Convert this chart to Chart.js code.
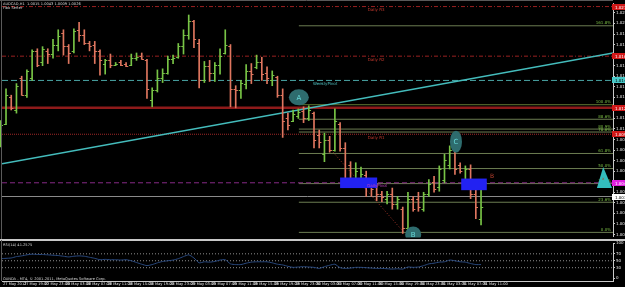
<!DOCTYPE html>
<html>
<head>
<meta charset="utf-8">
<script src="https://cdn.jsdelivr.net/npm/chart.js@4.4.1/dist/chart.umd.min.js"></script>
<style>
  html, body { margin: 0; padding: 0; background: #000; }
  #wrap { position: relative; width: 625px; height: 287px; overflow: hidden; background: #000; }
  canvas { position: absolute; left: 0; }
  #main { top: 0; }
  #rsi { top: 240px; }
</style>
</head>
<body>
<div id="wrap">
  <canvas id="main" width="625" height="240"></canvas>
  <canvas id="rsi" width="625" height="47"></canvas>
</div>
<script>
// chart header
const symbol = "AUDCAD,H1";
const indicatorName = "Fibo Setter";
const rsiTitle = "RSI(14) 41.2575";
const copyright = "OANDA - MT4, \u00a9 2001-2011, MetaQuotes Software Corp.";

// H1 bars, first one sits at bar position -1 (partly cut at the left edge)
const firstBar = -1;
const opens = [
  1.0090, 1.0105, 1.0130, 1.0118, 1.0148, 1.0132, 1.0148, 1.0174, 1.0163, 1.0174,
  1.0171, 1.0180, 1.0191, 1.0179, 1.0174, 1.0194, 1.0189, 1.0181, 1.0180, 1.0174,
  1.0162, 1.0165, 1.0161, 1.0163, 1.0162, 1.0161, 1.0167, 1.0169, 1.0165, 1.0127,
  1.0137, 1.0148, 1.0153, 1.0166, 1.0168, 1.0179, 1.0189, 1.0202, 1.0181, 1.0146,
  1.0160, 1.0153, 1.0161, 1.0172, 1.0179, 1.0138, 1.0137, 1.0143, 1.0155, 1.0159,
  1.0163, 1.0153, 1.0146, 1.0149, 1.0132, 1.0110, 1.0108, 1.0112, 1.0117, 1.0110,
  1.0115, 1.0094, 1.0076, 1.0090, 1.0080, 1.0105, 1.0082, 1.0066, 1.0052, 1.0054,
  1.0056, 1.0050, 1.0045, 1.0038, 1.0034, 1.0038, 1.0029, 1.0024, 1.0006, 1.0034,
  1.0034, 1.0024, 1.0038, 1.0050, 1.0045, 1.0052, 1.0066, 1.0080, 1.0066, 1.0048,
  1.0062, 1.0038, 1.0015
];
const highs = [
  1.0108, 1.0138, 1.0132, 1.0143, 1.0150, 1.0156, 1.0175, 1.0176, 1.0178, 1.0176,
  1.0185, 1.0194, 1.0194, 1.0180, 1.0195, 1.0201, 1.0194, 1.0183, 1.0183, 1.0175,
  1.0166, 1.0171, 1.0163, 1.0165, 1.0163, 1.0171, 1.0172, 1.0172, 1.0166, 1.0139,
  1.0156, 1.0157, 1.0169, 1.0170, 1.0181, 1.0194, 1.0208, 1.0203, 1.0185, 1.0164,
  1.0165, 1.0163, 1.0176, 1.0194, 1.0180, 1.0141, 1.0146, 1.0161, 1.0162, 1.0170,
  1.0168, 1.0159, 1.0155, 1.0150, 1.0138, 1.0115, 1.0118, 1.0119, 1.0121, 1.0122,
  1.0116, 1.0099, 1.0096, 1.0093, 1.0119, 1.0106, 1.0087, 1.0069, 1.0068, 1.0064,
  1.0060, 1.0052, 1.0048, 1.0041, 1.0041, 1.0044, 1.0036, 1.0026, 1.0040, 1.0036,
  1.0040, 1.0040, 1.0052, 1.0055, 1.0065, 1.0076, 1.0084, 1.0082, 1.0068, 1.0065,
  1.0066, 1.0046, 1.0043
];
const lows = [
  1.0083, 1.0104, 1.0118, 1.0115, 1.0132, 1.0130, 1.0146, 1.0159, 1.0160, 1.0162,
  1.0167, 1.0174, 1.0170, 1.0162, 1.0172, 1.0183, 1.0180, 1.0174, 1.0162, 1.0151,
  1.0152, 1.0158, 1.0160, 1.0160, 1.0159, 1.0160, 1.0165, 1.0166, 1.0129, 1.0121,
  1.0135, 1.0144, 1.0152, 1.0162, 1.0167, 1.0171, 1.0185, 1.0177, 1.0139, 1.0144,
  1.0145, 1.0145, 1.0152, 1.0171, 1.0121, 1.0120, 1.0129, 1.0138, 1.0143, 1.0157,
  1.0146, 1.0143, 1.0141, 1.0130, 1.0092, 1.0099, 1.0107, 1.0110, 1.0106, 1.0108,
  1.0082, 1.0082, 1.0069, 1.0078, 1.0079, 1.0079, 1.0050, 1.0045, 1.0050, 1.0050,
  1.0036, 1.0036, 1.0032, 1.0031, 1.0029, 1.0024, 1.0024, 1.0001, 1.0001, 1.0022,
  1.0022, 1.0022, 1.0036, 1.0040, 1.0041, 1.0049, 1.0062, 1.0057, 1.0058, 1.0043,
  1.0034, 1.0015, 1.0009
];
const closes = [
  1.0104, 1.0132, 1.0120, 1.0141, 1.0132, 1.0155, 1.0174, 1.0161, 1.0176, 1.0171,
  1.0180, 1.0188, 1.0179, 1.0172, 1.0193, 1.0189, 1.0181, 1.0179, 1.0174, 1.0165,
  1.0165, 1.0161, 1.0162, 1.0161, 1.0160, 1.0167, 1.0168, 1.0166, 1.0138, 1.0137,
  1.0148, 1.0153, 1.0166, 1.0167, 1.0179, 1.0189, 1.0202, 1.0185, 1.0146, 1.0160,
  1.0153, 1.0161, 1.0169, 1.0180, 1.0138, 1.0137, 1.0144, 1.0155, 1.0152, 1.0163,
  1.0152, 1.0148, 1.0151, 1.0132, 1.0108, 1.0104, 1.0114, 1.0116, 1.0110, 1.0118,
  1.0090, 1.0088, 1.0090, 1.0080, 1.0108, 1.0082, 1.0052, 1.0050, 1.0060, 1.0057,
  1.0048, 1.0043, 1.0038, 1.0036, 1.0038, 1.0029, 1.0034, 1.0006, 1.0034, 1.0024,
  1.0026, 1.0038, 1.0048, 1.0043, 1.0062, 1.0071, 1.0080, 1.0062, 1.0060, 1.0062,
  1.0038, 1.0026, 1.0026
];
const rsiValues = [
  56, 57, 58, 62, 64, 67, 69, 68, 68, 67,
  66, 65, 63, 61, 63, 64, 63, 60, 57, 53,
  54, 53, 53, 52, 53, 50, 45, 40, 36, 39,
  44, 48, 50, 52, 56, 62, 67, 58, 44, 47,
  46, 48, 52, 53, 41, 39, 39, 43, 46, 47,
  47, 47, 44, 40, 38, 34, 31, 32, 33, 32,
  31, 28, 33, 37, 40, 30, 28, 29, 31, 31,
  30, 29, 28, 28, 27, 26, 27, 26, 32, 31,
  32, 36, 41, 43, 46, 47, 52, 50, 47, 46,
  42, 39, 39
];

// axes
const xMin = -0.77, xMax = 116.28;
const priceMin = 0.9998, priceMax = 1.0219;
const priceTicks = [
  1.0000, 1.0010, 1.0020, 1.0030, 1.0040, 1.0050, 1.0060, 1.0070, 1.0080, 1.0090, 1.0100,
  1.0110, 1.0120, 1.0130, 1.0140, 1.0150, 1.0160, 1.0170, 1.0180, 1.0190, 1.0200, 1.0210
];
const rsiTicks = [0, 30, 50, 70, 100];
const rsiLevels = [30, 50, 70];
const timeTickPos = [0, 4, 8, 12, 16, 20, 24, 28, 32, 36, 40, 44, 48, 52, 56, 60, 64, 68, 72, 76, 80, 84, 88, 92];
const timeLabels = [
  "27 May 2012", "27 May 19:00", "27 May 23:00", "28 May 03:00", "28 May 07:00", "28 May 11:00",
  "28 May 15:00", "28 May 19:00", "28 May 23:00", "29 May 03:00", "29 May 07:00", "29 May 11:00",
  "29 May 15:00", "29 May 19:00", "29 May 23:00", "30 May 03:00", "30 May 07:00", "30 May 11:00",
  "30 May 15:00", "30 May 19:00", "30 May 23:00", "31 May 03:00", "31 May 07:00", "31 May 11:00"
];

// pivot levels
const dailyR3 = 1.0216;
const dailyR2 = 1.0169;
const weeklyPivot = 1.0146;
const weeklyR1 = 1.0120;
const dailyR1 = 1.0095;
const dailyPivot = 1.0049;
const bidPrice = 1.0036;

// fibonacci
const fibLow = 1.0002, fibHigh = 1.0123, fibStartBar = 56.1;
const fibRatios = [0, 0.236, 0.382, 0.5, 0.618, 0.786, 0.809, 0.886, 1, 1.618];

// drawn objects
const trendX = [-0.77, 116.28];
const trendY = [1.0067, 1.0172];
const zigX = [62.3, 76.4];
const zigY = [1.0080, 1.0001];
const zones = [
  { x0: 64.0, x1: 71.1, y0: 1.0044, y1: 1.0054 },
  { x0: 87.2, x1: 92.1, y0: 1.0042, y1: 1.0053 }
];
const points = [
  { name: "A", x: 56.1, y: 1.0130 },
  { name: "B", x: 78.0, y: 1.0000 },
  { name: "C", x: 86.2, y: 1.0088 }
];
const triX = [114.4, 113.2, 116.1];
const triY = [1.0064, 1.0044, 1.0044];
const markB = { x: 93.1, y: 1.0055 };

const upColor = "#78c446";
const downColor = "#df765f";
const FONT = "DejaVu Sans";

function hline(price, color, width, dash, x0) {
  return {
    type: "line",
    data: [{ x: x0 ?? xMin, y: price }, { x: xMax, y: price }],
    borderColor: color,
    borderWidth: width,
    borderDash: dash || [],
    pointRadius: 0,
    order: 2
  };
}

const barColors = opens.map((o, i) => (closes[i] >= o ? upColor : downColor));

const lineSets = [
  hline(dailyR3, "#9a2020", 1, [4, 2, 1, 2]),
  hline(dailyR2, "#9a2020", 1, [4, 2, 1, 2]),
  hline(weeklyPivot, "#4aa6a6", 1, [6, 3]),
  hline(weeklyR1, "#8e1a1a", 2.5),
  hline(dailyR1, "#a02828", 1, [1, 1]),
  hline(dailyPivot, "#862a86", 1, [5, 3]),
  hline(bidPrice, "#8a8a8a", 1),
  ...fibRatios.map(r =>
    hline(fibLow + r * (fibHigh - fibLow), r === 1 ? "#5f7430" : "#6c7d52", 1, null, fibStartBar)),
  {
    type: "line",
    data: trendX.map((x, i) => ({ x, y: trendY[i] })),
    borderColor: "#44bcbc", borderWidth: 1.5, pointRadius: 0, order: 1
  },
  {
    type: "line",
    data: zigX.map((x, i) => ({ x, y: zigY[i] })),
    borderColor: "#a03428", borderWidth: 1, borderDash: [1, 2], pointRadius: 0, order: 1
  }
];

const mainDecor = {
  id: "mainDecor",
  beforeDraw(chart) {
    const { ctx } = chart;
    ctx.save();
    ctx.fillStyle = "#000";
    ctx.fillRect(0, 0, chart.width, chart.height);
    ctx.restore();
  },
  afterDatasetsDraw(chart) {
    const { ctx, chartArea: a, scales: { x, y } } = chart;
    ctx.save();
    // open / close ticks
    ctx.lineWidth = 1;
    opens.forEach((o, i) => {
      const px = x.getPixelForValue(firstBar + i);
      const yo = Math.round(y.getPixelForValue(o)) + 0.5;
      const yc = Math.round(y.getPixelForValue(closes[i])) + 0.5;
      ctx.strokeStyle = barColors[i];
      ctx.beginPath();
      ctx.moveTo(px - 2.2, yo); ctx.lineTo(px, yo);
      ctx.moveTo(px, yc); ctx.lineTo(px + 2.2, yc);
      ctx.stroke();
    });

    // zones
    ctx.fillStyle = "#2222f2";
    zones.forEach(z => {
      const x0 = x.getPixelForValue(z.x0), x1 = x.getPixelForValue(z.x1);
      const y0 = y.getPixelForValue(z.y1), y1 = y.getPixelForValue(z.y0);
      ctx.fillRect(x0, y0, x1 - x0, y1 - y0);
    });

    // level captions
    ctx.font = "4px " + FONT;
    ctx.textBaseline = "top";
    ctx.textAlign = "left";
    const caps = [
      ["Daily R3", dailyR3, 69.3, "#c43a2e"],
      ["Daily R2", dailyR2, 69.3, "#c43a2e"],
      ["WeeklyPivot", weeklyPivot, 58.8, "#4fc0c0"],
      ["Daily R1", dailyR1, 69.3, "#c43a2e"],
      ["DailyPivot", dailyPivot, 69.2, "#c040c0"]
    ];
    caps.forEach(([t, p, bx, c]) => {
      ctx.fillStyle = c;
      ctx.fillText(t, x.getPixelForValue(bx), y.getPixelForValue(p) + 1.5);
    });

    // fibo captions
    ctx.textAlign = "right";
    ctx.textBaseline = "bottom";
    ctx.fillStyle = "#7cbf45";
    fibRatios.forEach(r => {
      const py = y.getPixelForValue(fibLow + r * (fibHigh - fibLow));
      ctx.fillText((r * 100).toFixed(1) + "%", a.right - 2, py - 0.5);
    });

    // triangle
    ctx.fillStyle = "#33bdbd";
    ctx.beginPath();
    triX.forEach((tx, i) => {
      const px = x.getPixelForValue(tx), py = y.getPixelForValue(triY[i]);
      if (i === 0) ctx.moveTo(px, py); else ctx.lineTo(px, py);
    });
    ctx.closePath();
    ctx.fill();
    ctx.fillStyle = "#a05030";
    ctx.textAlign = "center";
    ctx.textBaseline = "middle";
    ctx.font = "4px " + FONT;
    ctx.fillText("x", x.getPixelForValue(triX[0]), y.getPixelForValue((triY[0] + triY[1]) / 2) + 1);

    // red B mark
    ctx.font = "6px " + FONT;
    ctx.fillStyle = "#b8402e";
    ctx.fillText("B", x.getPixelForValue(markB.x), y.getPixelForValue(markB.y));

    // swing points
    ctx.beginPath();
    ctx.rect(a.left, a.top, a.right - a.left, a.bottom - a.top + 1);
    ctx.clip();
    const radii = { A: [10, 8], B: [8, 8], C: [6, 11] };
    points.forEach(p => {
      const px = x.getPixelForValue(p.x), py = y.getPixelForValue(p.y);
      const [rx, ry] = radii[p.name];
      ctx.fillStyle = "#2e6c6e";
      ctx.beginPath();
      ctx.ellipse(px, py, rx, ry, 0, 0, Math.PI * 2);
      ctx.fill();
      ctx.fillStyle = "#66d8d8";
      ctx.font = "7px " + FONT;
      ctx.fillText(p.name, px, py + 0.5);
    });
    ctx.restore();
  },
  afterDraw(chart) {
    const { ctx, chartArea: a, scales: { y } } = chart;
    ctx.save();
    // header
    ctx.font = "3.6px " + FONT;
    ctx.fillStyle = "#d8d8d8";
    ctx.textAlign = "left";
    ctx.textBaseline = "top";
    const last = opens.length - 1;
    const head = [opens[last], highs[last], lows[last], closes[last]].map(v => v.toFixed(4)).join(" ");
    ctx.fillText(symbol + "  " + head, 3, 2);
    ctx.fillText(indicatorName, 3, 6.5);

    // axis price boxes
    const boxes = [
      [dailyR3, "#d01818", "#fff"],
      [dailyR2, "#d01818", "#fff"],
      [weeklyPivot, "#48c8c8", "#000"],
      [weeklyR1, "#d01818", "#fff"],
      [dailyR1, "#d01818", "#fff"],
      [dailyPivot, "#e020e0", "#fff"],
      [bidPrice, "#ffffff", "#000"]
    ];
    ctx.font = "4px " + FONT;
    ctx.textBaseline = "middle";
    boxes.forEach(([p, bg, fg]) => {
      const py = Math.round(y.getPixelForValue(p));
      ctx.fillStyle = bg;
      ctx.fillRect(a.right - 1, py - 3, 20, 6);
      ctx.fillStyle = fg;
      ctx.fillText(p.toFixed(4), a.right + 2, py + 0.5);
    });

    // frame
    ctx.strokeStyle = "#5a5a5a";
    ctx.lineWidth = 1;
    ctx.beginPath();
    ctx.moveTo(0, 0.5); ctx.lineTo(a.right, 0.5);
    ctx.moveTo(1.5, 0); ctx.lineTo(1.5, chart.height);
    ctx.stroke();
    ctx.fillStyle = "#c8c8c8";
    ctx.fillRect(0, 239, chart.width, 1);
    ctx.restore();
  }
};

new Chart(document.getElementById("main"), {
  type: "bar",
  data: {
    datasets: [
      {
        type: "bar",
        data: highs.map((h, i) => ({ x: firstBar + i, y: [lows[i], h] })),
        backgroundColor: barColors,
        barThickness: 1,
        order: 0,
        clip: false
      },
      ...lineSets
    ]
  },
  options: {
    responsive: false,
    animation: false,
    devicePixelRatio: 1,
    layout: { padding: { left: 2, top: 2, bottom: 2, right: 0 } },
    plugins: { legend: { display: false }, tooltip: { enabled: false } },
    scales: {
      x: { type: "linear", min: xMin, max: xMax, offset: false, display: false },
      y: {
        position: "right",
        min: priceMin,
        max: priceMax,
        afterBuildTicks: s => { s.ticks = priceTicks.map(v => ({ value: v })); },
        afterFit: s => { s.width = 12; },
        ticks: {
          autoSkip: false,
          padding: 1,
          color: "#e8e8e8",
          font: { size: 4, family: FONT },
          callback: v => v.toFixed(4)
        },
        grid: { drawOnChartArea: false, tickLength: 2, color: "#c8c8c8" },
        border: { color: "#c8c8c8" }
      }
    }
  },
  plugins: [mainDecor]
});

const rsiDecor = {
  id: "rsiDecor",
  beforeDraw(chart) {
    const { ctx } = chart;
    ctx.save();
    ctx.fillStyle = "#000";
    ctx.fillRect(0, 0, chart.width, chart.height);
    ctx.restore();
  },
  afterDraw(chart) {
    const { ctx, chartArea: a } = chart;
    ctx.save();
    ctx.fillStyle = "#c8c8c8";
    ctx.fillRect(0, 0, chart.width, 1);
    ctx.strokeStyle = "#5a5a5a";
    ctx.beginPath();
    ctx.moveTo(1.5, 0); ctx.lineTo(1.5, a.bottom);
    ctx.stroke();
    ctx.font = "3.6px " + FONT;
    ctx.fillStyle = "#d8d8d8";
    ctx.textAlign = "left";
    ctx.textBaseline = "top";
    ctx.fillText(rsiTitle, 3, 3);
    ctx.textBaseline = "bottom";
    ctx.fillText(copyright, 3, a.bottom - 0.5);
    ctx.restore();
  }
};

new Chart(document.getElementById("rsi"), {
  type: "line",
  data: {
    datasets: [
      {
        data: rsiValues.map((v, i) => ({ x: firstBar + i, y: v })),
        borderColor: "#2a4a80",
        borderWidth: 1,
        pointRadius: 0,
        tension: 0.2
      },
      ...rsiLevels.map(l => ({
        data: [{ x: xMin, y: l }, { x: xMax, y: l }],
        borderColor: "#8c8c8c",
        borderWidth: 1,
        borderDash: [1, 2],
        pointRadius: 0
      }))
    ]
  },
  options: {
    responsive: false,
    animation: false,
    devicePixelRatio: 1,
    layout: { padding: { left: 2, top: 2, bottom: 0, right: 0 } },
    plugins: { legend: { display: false }, tooltip: { enabled: false } },
    scales: {
      x: {
        type: "linear",
        min: xMin,
        max: xMax,
        afterBuildTicks: s => { s.ticks = timeTickPos.map(v => ({ value: v })); },
        afterFit: s => { s.height = 6; },
        ticks: {
          autoSkip: false,
          maxRotation: 0,
          align: "start",
          labelOffset: -3,
          padding: 0,
          color: "#e8e8e8",
          font: { size: 3.6, family: FONT },
          callback: (v, i) => timeLabels[i]
        },
        grid: { drawOnChartArea: false, tickLength: 1, color: "#c8c8c8" },
        border: { color: "#c8c8c8" }
      },
      y: {
        position: "right",
        min: -8.3,
        max: 100,
        afterBuildTicks: s => { s.ticks = rsiTicks.map(v => ({ value: v })); },
        afterFit: s => { s.width = 12; },
        ticks: {
          autoSkip: false,
          padding: 1,
          color: "#e8e8e8",
          font: { size: 4, family: FONT }
        },
        grid: { drawOnChartArea: false, tickLength: 2, color: "#c8c8c8" },
        border: { color: "#c8c8c8" }
      }
    }
  },
  plugins: [rsiDecor]
});
</script>
</body>
</html>
